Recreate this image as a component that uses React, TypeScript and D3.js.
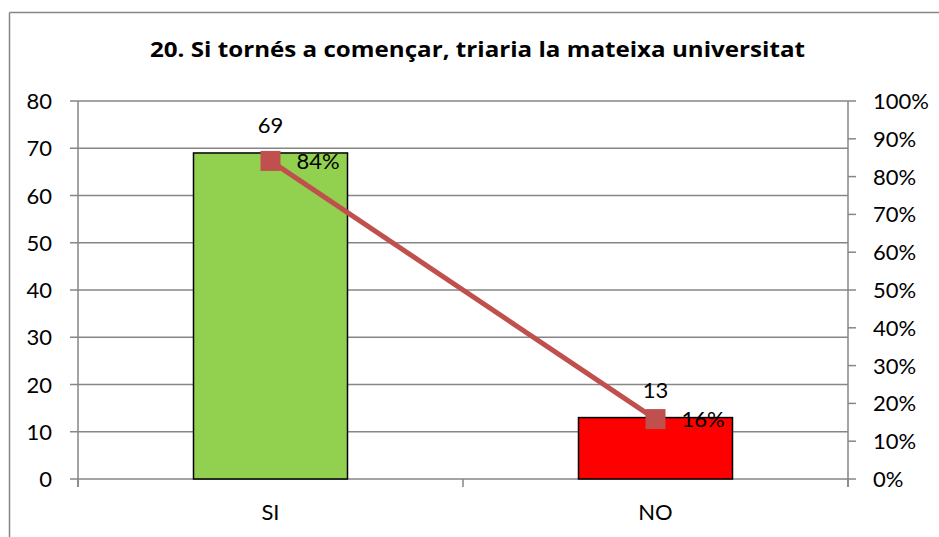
import React from "react";
import * as d3 from "d3";

const title = "20. Si tornés a començar, triaria la mateixa universitat";
const categories = ["SI", "NO"];
const counts = [69, 13];
const shares = [0.8415, 0.1585];
const barColors = ["#92D050", "#FF0000"];
const leftTicks = [0, 10, 20, 30, 40, 50, 60, 70, 80];
const rightTicks = [0, 0.1, 0.2, 0.3, 0.4, 0.5, 0.6, 0.7, 0.8, 0.9, 1.0];

const W = 939;
const H = 537;
const FONT = "Lato, 'Noto Sans', sans-serif";
const TITLE_FONT = "'Open Sans', 'Noto Sans', sans-serif";
const GRID = "#868686";
const LINE = "#C0504D";

export default function App() {
  const left = 78, right = 848, top = 101, bottom = 479;
  const x = d3.scaleBand<string>().domain(categories).range([left, right]).paddingInner(0.6).paddingOuter(0.3);
  const yL = d3.scaleLinear().domain([0, 80]).range([bottom, top]);
  const yR = d3.scaleLinear().domain([0, 1]).range([bottom, top]);
  const cx = (c: string) => (x(c) as number) + x.bandwidth() / 2;
  const lineGen = d3.line<number>().x((_, i) => cx(categories[i])).y((d) => yR(d));
  const fmt = d3.format(".0%");

  return (
    <svg width={W} height={H} style={{ position: "absolute", left: 0, top: 0, background: "#fff" }}>
      <rect x={0} y={0} width={W} height={H} fill="#fff" />
      {/* frame */}
      <line x1={9.5} y1={12.5} x2={W} y2={12.5} stroke={GRID} strokeWidth={1.5} />
      <line x1={9.5} y1={12.5} x2={9.5} y2={H} stroke={GRID} strokeWidth={1.5} />

      <text x={150} y={57} textAnchor="start" textLength={655} lengthAdjust="spacingAndGlyphs" fontFamily={TITLE_FONT} fontWeight="bold" fontSize={21} fill="#000">
        {title}
      </text>

      {/* gridlines */}
      {leftTicks.map((t) => (
        <line key={"g" + t} x1={left} x2={right} y1={yL(t)} y2={yL(t)} stroke={GRID} strokeWidth={1.5} />
      ))}
      {/* left axis */}
      <line x1={left} x2={left} y1={top} y2={bottom + 8} stroke={GRID} strokeWidth={1.5} />
      {leftTicks.map((t) => (
        <g key={"l" + t}>
          <line x1={left - 8} x2={left} y1={yL(t)} y2={yL(t)} stroke={GRID} strokeWidth={1.5} />
          <text x={52} y={yL(t) + 8} textAnchor="end" fontFamily={FONT} fontSize={22} fill="#000">
            {t}
          </text>
        </g>
      ))}
      {/* right axis */}
      <line x1={right} x2={right} y1={top} y2={bottom + 8} stroke={GRID} strokeWidth={1.5} />
      {rightTicks.map((t) => (
        <g key={"r" + t}>
          <line x1={right} x2={right + 8} y1={yR(t)} y2={yR(t)} stroke={GRID} strokeWidth={1.5} />
          <text x={873} y={yR(t) + 8} textAnchor="start" fontFamily={FONT} fontSize={22} fill="#000">
            {fmt(t)}
          </text>
        </g>
      ))}
      {/* bottom axis ticks */}
      {[left, (left + right) / 2, right].map((p, i) => (
        <line key={"b" + i} x1={p} x2={p} y1={bottom} y2={bottom + 8} stroke={GRID} strokeWidth={1.5} />
      ))}

      {/* bars */}
      {categories.map((c, i) => (
        <g key={"bar" + c}>
          <rect x={x(c)} y={yL(counts[i])} width={x.bandwidth()} height={bottom - yL(counts[i])} fill={barColors[i]} stroke="#000" strokeWidth={1.5} />
          <text x={cx(c)} y={yL(counts[i]) - 20} textAnchor="middle" fontFamily={FONT} fontSize={22} fill="#000">
            {counts[i]}
          </text>
          <text x={cx(c)} y={520} textAnchor="middle" fontFamily={FONT} fontSize={22} fill="#000">
            {c}
          </text>
        </g>
      ))}

      {/* line series */}
      <path d={lineGen(shares) || ""} fill="none" stroke={LINE} strokeWidth={5} />
      {shares.map((s, i) => (
        <g key={"m" + i}>
          <rect x={cx(categories[i]) - 10} y={yR(s) - 10} width={20} height={20} fill={LINE} />
          <text x={cx(categories[i]) + 26} y={yR(s) + 8} textAnchor="start" fontFamily={FONT} fontSize={22} fill="#000">
            {fmt(s)}
          </text>
        </g>
      ))}
    </svg>
  );
}
